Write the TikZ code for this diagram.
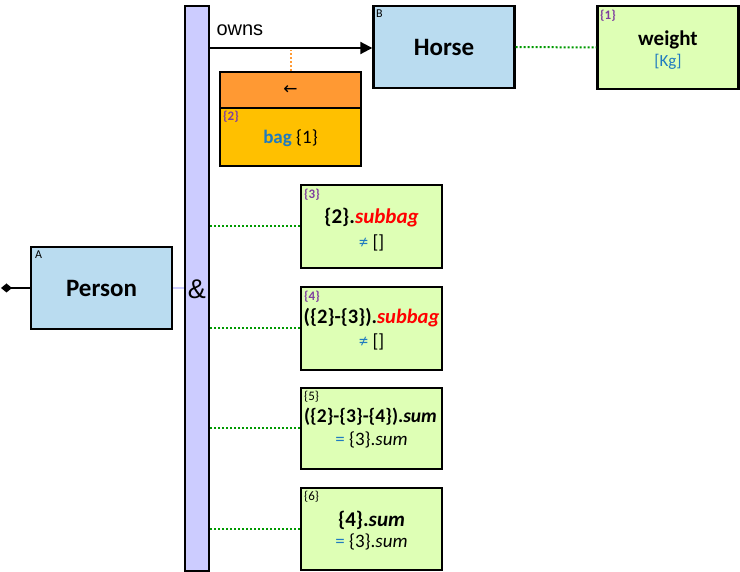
\documentclass[tikz,border=0pt]{standalone}
\usepackage{fontspec}
\setmainfont{Carlito}
\newfontfamily\arialf{Liberation Sans}
\newfontfamily\dejavu{DejaVu Sans}
\usetikzlibrary{arrows.meta}
\definecolor{cls}{HTML}{BADCF0}
\definecolor{barc}{HTML}{CCCCFF}
\definecolor{grn}{HTML}{DEFFB5}
\definecolor{orng}{HTML}{FF9933}
\definecolor{yel}{HTML}{FFC000}
\definecolor{dotg}{HTML}{009900}
\definecolor{purp}{HTML}{7F3F9F}
\definecolor{blu}{HTML}{1F7BC0}
\definecolor{redc}{HTML}{FF0000}
\tikzset{
  box/.style={draw=black, line width=2.4pt, inner sep=0pt},
  clsbox/.style={box, fill=cls, minimum width=141pt, minimum height=82pt, font=\fontsize{25}{27}\selectfont\bfseries},
  cbox/.style={box, fill=grn, minimum width=141pt, align=center},
  tag/.style={anchor=north west, inner sep=0pt, font=\fontsize{12}{13}\selectfont},
  ptag/.style={tag, text=purp, font=\fontsize{13}{14}\selectfont\bfseries},
  btag/.style={tag, font=\fontsize{13}{14}\selectfont},
  gdot/.style={draw=dotg, line width=2pt, dash pattern=on 2pt off 2pt},
  l1/.style={font=\fontsize{21}{23}\selectfont\bfseries},
  l1m/.style={font=\fontsize{20.5}{22}\selectfont\bfseries},
  l1s/.style={font=\fontsize{19.5}{21}\selectfont\bfseries},
  l2/.style={font=\fontsize{19}{21}\selectfont},
}
\begin{document}
\begin{tikzpicture}[x=1pt,y=-1pt]
\useasboundingbox (0,0) rectangle (740,572);
% bar
\node[box, fill=barc, minimum width=24pt, minimum height=565pt] (bar) at (197,288.5) {};
\node[font=\arialf\fontsize{27}{29}\selectfont] (amp) at (197,289) {\&};
% Person
\node[clsbox] (person) at (101.5,288) {Person};
\node[tag] (ta) at (35,251) {A};
\coordinate (dia) at (1,288);
\draw[line width=2pt, -{Diamond[length=11pt,width=9pt]}] (person.west) -- (dia);
\draw[barc, line width=2pt] (person.east) -- (person.east -| bar.west);
% Horse
\node[clsbox] (horse) at (444,47) {Horse};
\node[tag] (tb) at (376,10) {B};
% owns
\coordinate (ownsstart) at (bar.east |- 0,48);
\coordinate (ownsend) at (horse.west |- 0,48);
\draw[line width=2pt, -{Triangle[length=12pt,width=12pt]}] (ownsstart) -- (ownsend);
\node[font=\arialf\fontsize{20}{22}\selectfont, anchor=west] (owns) at (213,30) {owns};
% weight
\node[cbox, minimum height=83pt] (weight) at (668,47.5) {};
\node[ptag] (t1) at (600,10) {\{1\}};
\node[l1] (wtxt) at (668,40) {weight};
\node[font=\fontsize{17}{19}\selectfont, text=blu] (kg) at (668,62) {[Kg]};
\draw[gdot] (horse.east) -- (weight.west);
% orange / yellow
\node[box, fill=orng, minimum width=141pt, minimum height=36pt] (orb) at (290.5,90) {\dejavu\fontsize{17}{18}\selectfont ←};
\node[box, fill=yel, minimum width=141pt, minimum height=58pt] (yb) at (290.5,137) {};
\node[ptag] (t2) at (223,111) {\{2\}};
\node[font=\fontsize{19}{21}\selectfont] (bag) at (290.5,138) {\textcolor{blu}{\bfseries bag} \{1\}};
\coordinate (ojoin) at (orb.north |- 0,50);
\draw[orng, line width=2pt, dash pattern=on 2pt off 2pt] (orb.north) -- (ojoin);
% constraint boxes
\node[cbox, minimum height=83pt] (c3) at (371.5,226.5) {};
\node[ptag] (t3) at (304,189) {\{3\}};
\node[l1] (c3a) at (371.5,218) {\{2\}.\textcolor{redc}{\itshape subbag}};
\node[l2] (c3b) at (371.5,243) {\textcolor{blu}{≠} []};
\node[cbox, minimum height=83pt] (c4) at (371.5,328.5) {};
\node[ptag] (t4) at (304,291) {\{4\}};
\node[l1m] (c4a) at (371.5,318) {(\{2\}-\{3\}).\textcolor{redc}{\itshape subbag}};
\node[l2] (c4b) at (371.5,342) {\textcolor{blu}{≠} []};
\node[cbox, minimum height=81pt] (c5) at (371.5,428.5) {};
\node[btag] (t5) at (304,391) {\{5\}};
\node[l1s] (c5a) at (370.5,417) {(\{2\}-\{3\}-\{4\}).\textit{sum}};
\node[l2] (c5b) at (371.5,440) {\textcolor{blu}{=} \{3\}.\textit{sum}};
\node[cbox, minimum height=82pt] (c6) at (371.5,529) {};
\node[btag] (t6) at (304,491) {\{6\}};
\node[l1] (c6a) at (371.5,520) {\{4\}.\textit{sum}};
\node[l2] (c6b) at (371.5,542) {\textcolor{blu}{=} \{3\}.\textit{sum}};
\foreach \c in {c3,c4,c5,c6}{
  \draw[gdot] (bar.east |- \c.west) -- (\c.west);
}
\end{tikzpicture}
\end{document}
